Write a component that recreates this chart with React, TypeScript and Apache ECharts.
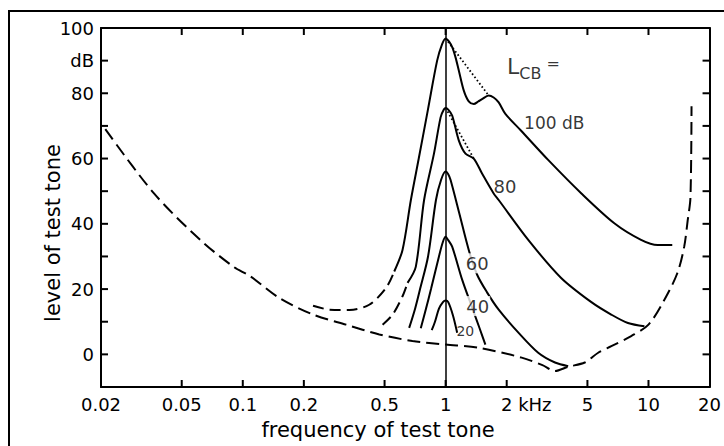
import React, { useEffect, useRef } from 'react';
import * as echarts from 'echarts';

const FONT = "'DejaVu Sans', sans-serif";

// x axis (frequency, kHz, logarithmic)
const xTickValues = [0.02, 0.05, 0.1, 0.2, 0.5, 1, 2, 5, 10, 20];
const xTickLabels = ['0.02', '0.05', '0.1', '0.2', '0.5', '1', '2 kHz', '5', '10', '20'];
// y axis (level, dB)
const yTickValues = [0, 10, 20, 30, 40, 50, 60, 70, 80, 90];

// threshold in quiet (dashed)
const thresholdFreq = [0.021, 0.0365, 0.0619, 0.0897, 0.109, 0.152, 0.222, 0.323, 0.471, 0.686, 1, 1.46, 2.37, 3.0, 3.46, 4.02, 4.85, 5.65, 6.56, 8.22, 10, 12, 13.9, 15.0, 15.6, 16.1, 16.3];
const thresholdLevel = [69, 49.3, 35, 26.9, 23.9, 17.2, 12.2, 9.1, 6.1, 4.1, 3, 2, -1, -3.3, -5.1, -3.8, -2.5, 0.5, 2.5, 5.6, 9.1, 16.8, 25, 33, 41, 48, 76];

// masking curve L_CB = 100 dB
const m100DashFreq = [0.222, 0.268, 0.336, 0.42, 0.508, 0.558];
const m100DashLevel = [14.9, 13.7, 13.6, 15.2, 20.3, 25.4];
const m100Freq = [0.558, 0.613, 0.674, 0.737, 0.818, 0.908, 0.96, 1, 1.04, 1.08, 1.119, 1.162, 1.229, 1.3, 1.376, 1.45, 1.512, 1.63, 1.725, 1.826, 1.97, 2.35, 3.21, 4.67, 6.81, 9.19, 11.1, 13.1];
const m100Level = [25.4, 32, 47.3, 60, 75, 90, 95, 96.8, 95.8, 94, 91, 86.9, 80.8, 77.5, 76.7, 77.5, 78.2, 79.3, 78.7, 77.2, 73.7, 68.6, 59.5, 49.3, 40.1, 35.1, 33.5, 33.5];
const m100DotFreq = [1, 1.63];
const m100DotLevel = [96.8, 79.3];

// masking curve 80 dB
const m80DashFreq = [0.489, 0.548, 0.613, 0.649];
const m80DashLevel = [9.1, 12.2, 17.8, 21.9];
const m80Freq = [0.649, 0.713, 0.783, 0.876, 0.945, 0.98, 1, 1.03, 1.077, 1.162, 1.253, 1.376, 1.512, 1.725, 1.826, 2.56, 3.7, 5.23, 6.55, 7.92, 9.55];
const m80Level = [21.9, 26.9, 47.3, 61.5, 72.7, 75, 75.5, 75, 73.2, 65.5, 61.5, 60, 55.4, 49.3, 47.3, 35, 23.5, 16, 12.2, 9.6, 8.6];
const m80DotFreq = [1, 1.376];
const m80DotLevel = [75.5, 60];

// masking curve 60 dB
const m60Freq = [0.661, 0.707, 0.748, 0.819, 0.896, 0.95, 1, 1.03, 1.058, 1.17, 1.3, 1.43, 1.6, 1.826, 2.29, 2.86, 3.46, 4.02];
const m60Level = [8.1, 14, 20, 30, 47.3, 53.5, 56, 55.2, 53.4, 43, 32, 24.4, 19, 13.7, 6.6, 0.5, -2.5, -3.6];

// masking curve 40 dB
const m40Freq = [0.754, 0.8, 0.847, 0.927, 0.97, 1, 1.03, 1.077, 1.206, 1.339, 1.47, 1.57];
const m40Level = [8, 14, 20, 30, 34.5, 36, 35, 33, 22.9, 15, 8, 3];

// masking curve 20 dB
const m20Freq = [0.854, 0.886, 0.927, 0.97, 1, 1.03, 1.086, 1.14];
const m20Level = [7.4, 10, 14, 16, 16.5, 16, 12, 6.6];

// curve annotations
const annText = ['100 dB', '80', '60', '40', '20', 'LCB'];
const annFreq = [3.43, 1.96, 1.43, 1.44, 1.25, 2.71];
const annLevel = [70.9, 51.5, 27.9, 14.8, 7.2, 87.5];

const lg = (v: number) => Math.log10(v);
const pts = (fs: number[], ls: number[]) => fs.map((f, i) => [lg(f), ls[i]]);

export default function App() {
  const ref = useRef<HTMLDivElement>(null);
  useEffect(() => {
    if (!ref.current) return;
    const chart = echarts.init(ref.current, undefined, { renderer: 'svg' });
    const tickLg = xTickValues.map(lg);
    const xMin = lg(xTickValues[0]);
    const xMax = lg(xTickValues[xTickValues.length - 1]);
    const yMin = -10;
    const yMax = 100;
    const TICK = 7;

    const solid = (name: string, data: number[][], extra: any = {}) => ({
      name,
      type: 'line',
      data,
      symbol: 'none',
      smooth: 0.3,
      silent: true,
      lineStyle: { color: '#000', width: 2, type: 'solid' },
      z: 3,
      ...extra,
    });

    const annData = annText.map((t, i) => {
      const item: any = { name: t, value: [lg(annFreq[i]), annLevel[i]] };
      if (t === '100 dB') item.label = { fontSize: 17 };
      if (t === '20') item.label = { fontSize: 14 };
      if (t === '60' || t === '40') item.label = { backgroundColor: '#fff', padding: [1, 1] };
      if (t === 'LCB') {
        item.label = {
          formatter: '{a|L}{b|CB}{c| =}',
          rich: {
            a: { fontSize: 22, lineHeight: 22, verticalAlign: 'top', fontFamily: FONT, color: '#000' },
            b: { fontSize: 16, lineHeight: 16, verticalAlign: 'bottom', fontFamily: FONT, color: '#000' },
            c: { fontSize: 16, lineHeight: 26, verticalAlign: 'top', fontFamily: FONT, color: '#000' },
          },
        };
      }
      return item;
    });

    const xLabelFormatter = (v: number) => {
      const i = tickLg.findIndex((t) => Math.abs(t - v) < 1e-6);
      if (i < 0) return '';
      const s = xTickLabels[i];
      if (s.indexOf(' ') > 0) {
        const rest = s.slice(s.indexOf(' '));
        return '{h|' + rest + '}' + s;
      }
      return s;
    };

    const tickStyle = { stroke: '#000', lineWidth: 2 };

    chart.setOption({
      animation: false,
      backgroundColor: '#fff',
      grid: { left: 101, right: 12, top: 28, bottom: 59 },
      xAxis: [
        {
          type: 'value',
          min: xMin,
          max: xMax,
          position: 'bottom',
          axisLine: { show: true, onZero: false, lineStyle: { color: '#000', width: 2 } },
          axisTick: { show: false },
          axisLabel: {
            show: true,
            customValues: tickLg,
            formatter: xLabelFormatter,
            color: '#000',
            fontSize: 18,
            fontFamily: FONT,
            margin: 8,
            rich: { h: { color: 'rgba(0,0,0,0)', fontSize: 18, fontFamily: FONT } },
          },
          splitLine: { show: false },
        },
        {
          type: 'value',
          min: xMin,
          max: xMax,
          position: 'top',
          axisLine: { show: true, onZero: false, lineStyle: { color: '#000', width: 2 } },
          axisTick: { show: false },
          axisLabel: { show: false },
          splitLine: { show: false },
        },
      ],
      yAxis: [
        {
          type: 'value',
          min: yMin,
          max: yMax,
          interval: 10,
          position: 'left',
          axisLine: { show: true, onZero: false, lineStyle: { color: '#000', width: 2 } },
          axisTick: { show: false },
          axisLabel: {
            show: true,
            color: '#000',
            fontSize: 18,
            fontFamily: FONT,
            margin: 7,
            formatter: (v: number) => (v === 90 ? 'dB' : v >= 0 && v % 20 === 0 ? String(v) : ''),
          },
          splitLine: { show: false },
        },
        {
          type: 'value',
          min: yMin,
          max: yMax,
          interval: 10,
          position: 'right',
          axisLine: { show: true, onZero: false, lineStyle: { color: '#000', width: 2 } },
          axisTick: { show: false },
          axisLabel: { show: false },
          splitLine: { show: false },
        },
      ],
      graphic: [
        {
          type: 'rect',
          shape: { x: 9, y: 11, width: 760, height: 470 },
          style: { fill: 'none', stroke: '#000', lineWidth: 2 },
          silent: true,
        },
        {
          type: 'text',
          x: 378,
          y: 430,
          style: { text: 'frequency of test tone', font: `21px ${FONT}`, fill: '#000', align: 'center', verticalAlign: 'middle' },
        },
        {
          type: 'text',
          x: 53,
          y: 233,
          rotation: Math.PI / 2,
          style: { text: 'level of test tone', font: `21px ${FONT}`, fill: '#000', align: 'center', verticalAlign: 'middle' },
        },
      ],
      series: [
        {
          name: 'x ticks',
          type: 'custom',
          z: 100,
          silent: true,
          data: tickLg.slice(1, -1).map((v) => [v, 50]),
          renderItem: (params: any, api: any) => {
            const x = api.value(0);
            const b = api.coord([x, yMin]);
            const t = api.coord([x, yMax]);
            return {
              type: 'group',
              children: [
                { type: 'line', shape: { x1: b[0], y1: b[1], x2: b[0], y2: b[1] - TICK }, style: tickStyle },
                { type: 'line', shape: { x1: t[0], y1: t[1], x2: t[0], y2: t[1] + TICK }, style: tickStyle },
              ],
            };
          },
        },
        {
          name: 'y ticks',
          type: 'custom',
          z: 100,
          silent: true,
          data: yTickValues.map((v) => [0, v]),
          renderItem: (params: any, api: any) => {
            const y = api.value(1);
            const l = api.coord([xMin, y]);
            const r = api.coord([xMax, y]);
            return {
              type: 'group',
              children: [
                { type: 'line', shape: { x1: l[0], y1: l[1], x2: l[0] + TICK, y2: l[1] }, style: tickStyle },
                { type: 'line', shape: { x1: r[0], y1: r[1], x2: r[0] - TICK, y2: r[1] }, style: tickStyle },
              ],
            };
          },
        },
        solid('threshold', pts(thresholdFreq, thresholdLevel), { lineStyle: { color: '#000', width: 2, type: [13, 6] } }),
        solid('100 dB low', pts(m100DashFreq, m100DashLevel), { lineStyle: { color: '#000', width: 2, type: [11, 6] } }),
        solid('100 dB', pts(m100Freq, m100Level)),
        solid('100 dB dotted', pts(m100DotFreq, m100DotLevel), { smooth: false, lineStyle: { color: '#000', width: 1.8, type: [1.6, 2.4] } }),
        solid('80 dB low', pts(m80DashFreq, m80DashLevel), { lineStyle: { color: '#000', width: 2, type: [11, 6] } }),
        solid('80 dB', pts(m80Freq, m80Level)),
        solid('80 dB dotted', pts(m80DotFreq, m80DotLevel), { smooth: false, lineStyle: { color: '#000', width: 1.8, type: [1.6, 2.4] } }),
        solid('60 dB', pts(m60Freq, m60Level)),
        solid('40 dB', pts(m40Freq, m40Level)),
        solid('20 dB', pts(m20Freq, m20Level), {
          markLine: {
            silent: true,
            symbol: 'none',
            label: { show: false },
            lineStyle: { color: '#000', width: 1.5, type: 'solid' },
            data: [{ xAxis: lg(1) }],
          },
        }),
        {
          name: 'labels',
          type: 'scatter',
          data: annData,
          symbolSize: 1,
          itemStyle: { color: 'rgba(0,0,0,0)' },
          silent: true,
          z: 10,
          label: {
            show: true,
            position: 'inside',
            formatter: '{b}',
            color: '#000',
            fontSize: 18,
            fontFamily: FONT,
          },
        },
      ],
    });
    return () => chart.dispose();
  }, []);

  return <div ref={ref} style={{ position: 'fixed', left: 0, top: 0, width: 724, height: 446 }} />;
}
